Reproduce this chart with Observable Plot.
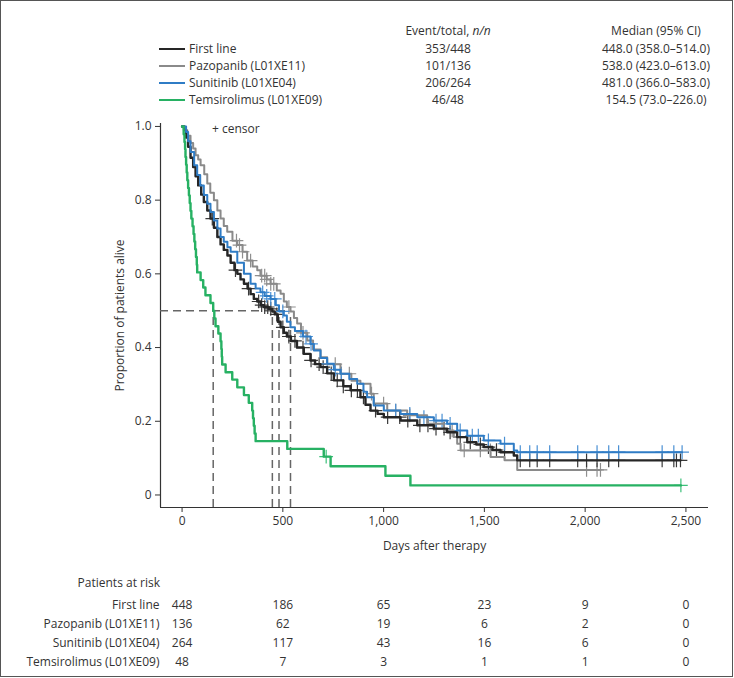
<!DOCTYPE html>
<html><head><meta charset="utf-8">
<script src="https://cdn.jsdelivr.net/npm/d3@7"></script>
<script src="https://cdn.jsdelivr.net/npm/@observablehq/plot@0.6"></script>
<style>
body{margin:0;background:#fff;font-family:"Open Sans",sans-serif;color:#333;}
#wrap{position:relative;width:734px;height:678px;overflow:hidden;background:#fff;}
#border{position:absolute;left:0;top:0;width:733px;height:677px;box-sizing:border-box;border:1px solid #555;pointer-events:none;}
.t{position:absolute;font-size:12px;line-height:16px;white-space:nowrap;color:#333;}
.sw{position:absolute;height:2px;width:26px;}
svg{position:absolute;left:0;overflow:visible;}
</style></head>
<body><div id="wrap"><div id="border"></div></div>
<script>
const seriesNames = ["First line", "Pazopanib (L01XE11)", "Sunitinib (L01XE04)", "Temsirolimus (L01XE09)"];
const seriesColors = ["#262626", "#8a8a8a", "#2f7cc5", "#27b163"];
const eventTotals = ["353/448", "101/136", "206/264", "46/48"];
const medianLabels = ["448.0 (358.0–514.0)", "538.0 (423.0–613.0)", "481.0 (366.0–583.0)", "154.5 (73.0–226.0)"];
const medianDays = [448, 538, 481, 154.5];

const xTicks = [0, 500, 1000, 1500, 2000, 2500];
const yTicks = [0, 0.2, 0.4, 0.6, 0.8, 1.0];
const xDomain = [-107, 2612];
const yDomain = [-0.034, 1.008];

const firstLineDays = [0,10,20,30,42,55,67,80,95,108,125,141,158,175,191,207,225,241,260,274,290,307,325,340,356,373,390,406,430,448,460,475,489,505,520,540,570,604,637,660,687,720,753,800,836,885,910,935,970,1001,1084,1167,1249,1315,1365,1415,1460,1497,1540,1580,1646,1663,2473];
const firstLineSurv = [1.0,0.99,0.97,0.945,0.915,0.89,0.865,0.84,0.815,0.795,0.772,0.75,0.725,0.70,0.68,0.665,0.65,0.63,0.61,0.60,0.585,0.573,0.56,0.545,0.532,0.525,0.515,0.51,0.505,0.498,0.49,0.47,0.455,0.44,0.43,0.418,0.40,0.383,0.365,0.355,0.347,0.33,0.311,0.295,0.284,0.265,0.245,0.229,0.22,0.211,0.202,0.189,0.18,0.17,0.157,0.143,0.137,0.13,0.122,0.116,0.107,0.094,0.094];

const pazopanibDays = [0,15,26,42,55,67,80,92,110,125,140,158,175,191,207,224,250,274,300,323,350,373,389,420,439,470,489,505,520,538,555,571,590,621,650,687,720,786,840,885,935,951,1018,1117,1216,1299,1348,1365,1382,1531,1600,1663,2076];
const pazopanibSurv = [1.0,0.99,0.975,0.955,0.94,0.922,0.91,0.895,0.87,0.845,0.82,0.80,0.772,0.75,0.73,0.714,0.69,0.678,0.66,0.636,0.62,0.61,0.595,0.585,0.573,0.555,0.546,0.525,0.51,0.498,0.48,0.465,0.44,0.419,0.395,0.374,0.355,0.329,0.31,0.302,0.275,0.248,0.229,0.216,0.193,0.175,0.157,0.139,0.121,0.103,0.094,0.068,0.068];

const sunitinibDays = [0,20,30,42,60,75,90,108,125,141,158,175,191,207,225,241,274,307,340,365,389,410,439,465,481,505,520,538,560,600,637,654,687,720,753,786,830,869,900,918,951,1001,1084,1167,1249,1315,1365,1415,1497,1580,1646,1663,2481];
const sunitinibSurv = [1.0,0.985,0.96,0.931,0.895,0.868,0.84,0.814,0.79,0.768,0.745,0.723,0.70,0.687,0.672,0.66,0.63,0.60,0.573,0.56,0.55,0.54,0.532,0.515,0.498,0.487,0.47,0.455,0.445,0.43,0.41,0.392,0.372,0.356,0.34,0.329,0.315,0.302,0.28,0.265,0.243,0.229,0.22,0.211,0.202,0.193,0.175,0.161,0.148,0.139,0.121,0.116,0.116];

const temsirolimusDays = [0,8,12,15,17,20,23,26,30,34,38,42,46,52,57,61,65,69,73,75,92,105,116,141,154.5,160,166,180,191,195,197,199,216,249,274,307,331,348,352,356,360,365,522,703,737,1009,1133,2475];
const temsirolimusSurv = [1.0,0.979,0.958,0.938,0.917,0.896,0.875,0.854,0.833,0.813,0.792,0.771,0.75,0.729,0.708,0.688,0.667,0.646,0.625,0.604,0.583,0.563,0.542,0.521,0.50,0.479,0.458,0.438,0.417,0.396,0.375,0.354,0.333,0.313,0.292,0.271,0.25,0.229,0.208,0.188,0.167,0.146,0.125,0.104,0.078,0.052,0.026,0.026];

const firstLineCensor = [150,265,330,380,395,410,425,440,470,500,530,560,600,640,680,700,740,770,800,840,870,900,960,1020,1080,1120,1180,1220,1260,1300,1330,1380,1430,1480,1520,1560,1600,1678,1725,1762,1824,1963,2007,2059,2117,2166,2382,2440,2453,2473];
const pazopanibCensor = [270,285,300,340,395,410,420,440,455,530,600,760,790,830,940,1000,1060,1130,1250,1340,1400,1480,1530,2007,2059,2076];
const sunitinibCensor = [400,420,440,460,500,590,615,640,720,760,790,1060,1130,1200,1260,1290,1330,1380,1440,1470,1520,1600,1678,1725,1762,1824,1963,2059,2117,2166,2382,2440,2481];
const temsirolimusCensor = [715,2475];

const riskDays = [0, 500, 1000, 1500, 2000, 2500];
const riskFirstLine = [448, 186, 65, 23, 9, 0];
const riskPazopanib = [136, 62, 19, 6, 2, 0];
const riskSunitinib = [264, 117, 43, 16, 6, 0];
const riskTemsirolimus = [48, 7, 3, 1, 1, 0];

const curveDays = [firstLineDays, pazopanibDays, sunitinibDays, temsirolimusDays];
const curveSurv = [firstLineSurv, pazopanibSurv, sunitinibSurv, temsirolimusSurv];
const censors = [firstLineCensor, pazopanibCensor, sunitinibCensor, temsirolimusCensor];
const risks = [riskFirstLine, riskPazopanib, riskSunitinib, riskTemsirolimus];

function survAt(i, t) {
  const d = curveDays[i], s = curveSurv[i];
  let v = s[0];
  for (let k = 0; k < d.length; k++) if (d[k] <= t) v = s[k];
  return v;
}
const kmRows = seriesNames.map((name, i) => curveDays[i].map((day, k) => ({series: name, day, surv: curveSurv[i][k]})));
const censorRows = seriesNames.flatMap((name, i) => censors[i].map(day => ({series: name, day, surv: survAt(i, day)})));
const riskRows = seriesNames.flatMap((name, i) => riskDays.map((day, k) => ({series: name, day, n: risks[i][k]})));

const wrap = document.getElementById("wrap");
function addText(html, left, top, cls, extra) {
  const el = document.createElement("div");
  el.className = cls || "t";
  el.innerHTML = html;
  el.style.left = left + "px"; el.style.top = top + "px";
  if (extra) Object.assign(el.style, extra);
  wrap.appendChild(el);
  return el;
}
// legend
addText("Event/total, <i>n/n</i>", 368, 23, "t", {width: "160px", textAlign: "center"});
addText("Median (95% CI)", 566, 23, "t", {width: "180px", textAlign: "center"});
seriesNames.forEach((name, i) => {
  const cy = 49 + i * 17;
  const sw = addText("", 159, cy - 1, "sw");
  sw.style.background = seriesColors[i];
  addText(name, 189, cy - 8);
  addText(eventTotals[i], 368, cy - 8, "t", {width: "160px", textAlign: "center"});
  addText(medianLabels[i], 566, cy - 8, "t", {width: "180px", textAlign: "center"});
});
addText("+ censor", 212, 121);
addText("Patients at risk", 0, 575, "t", {width: "160px", textAlign: "right"});

const lineWidths = [2.4, 2, 2, 2.4];
const drawOrder = [1, 0, 2, 3];
const censorColors = ["#3a3a3a", "#8f8f8f", "#4a90d4", "#3cc07a"];

const main = Plot.plot({
  width: 734, height: 450,
  marginLeft: 160, marginRight: 26, marginTop: 13, marginBottom: 53,
  style: {fontFamily: "Open Sans", fontSize: "12px", color: "#333", background: "transparent"},
  x: {domain: xDomain, ticks: xTicks, tickFormat: d3.format(","), label: "Days after therapy", labelAnchor: "center", labelOffset: 42, labelArrow: "none", tickSize: 5},
  y: {domain: yDomain, ticks: yTicks, tickFormat: d => d === 0 ? "0" : d.toFixed(1), label: "Proportion of patients alive", labelAnchor: "center", labelOffset: 45, labelArrow: "none", tickSize: 5},
  color: {domain: seriesNames, range: seriesColors},
  marks: [
    Plot.ruleX([xDomain[0]], {stroke: "#333", strokeWidth: 1.2}),
    Plot.ruleY([yDomain[0]], {stroke: "#333", strokeWidth: 1.2}),
    Plot.ruleY([0.5], {x1: xDomain[0], x2: d3.max(medianDays), stroke: "#666", strokeWidth: 1.5, strokeDasharray: "8,5"}),
    Plot.ruleX(medianDays, {y1: yDomain[0], y2: 0.5, stroke: "#666", strokeWidth: 1.5, strokeDasharray: "8,5"}),
    ...drawOrder.map(i => Plot.dot(censorRows.filter(d => d.series === seriesNames[i]), {x: "day", y: "surv", symbol: "plus", r: 4.5, stroke: censorColors[i], strokeWidth: 1.2})),
    ...drawOrder.map(i => Plot.line(kmRows[i], {x: "day", y: "surv", stroke: seriesColors[i], strokeWidth: lineWidths[i], curve: "step-after"}))
  ]
});
main.style.top = "110px";
wrap.appendChild(main);

const risk = Plot.plot({
  width: 734, height: 85,
  marginLeft: 160, marginRight: 26, marginTop: 14, marginBottom: 13,
  style: {fontFamily: "Open Sans", fontSize: "12px", color: "#333", background: "transparent"},
  x: {domain: xDomain, axis: null},
  y: {type: "point", domain: seriesNames, padding: 0, tickSize: 0, tickPadding: 1, label: null},
  marks: [Plot.text(riskRows, {x: "day", y: "series", text: "n", fill: "#333", fontSize: 12})]
});
risk.style.top = "590px";
wrap.appendChild(risk);
</script></body></html>
